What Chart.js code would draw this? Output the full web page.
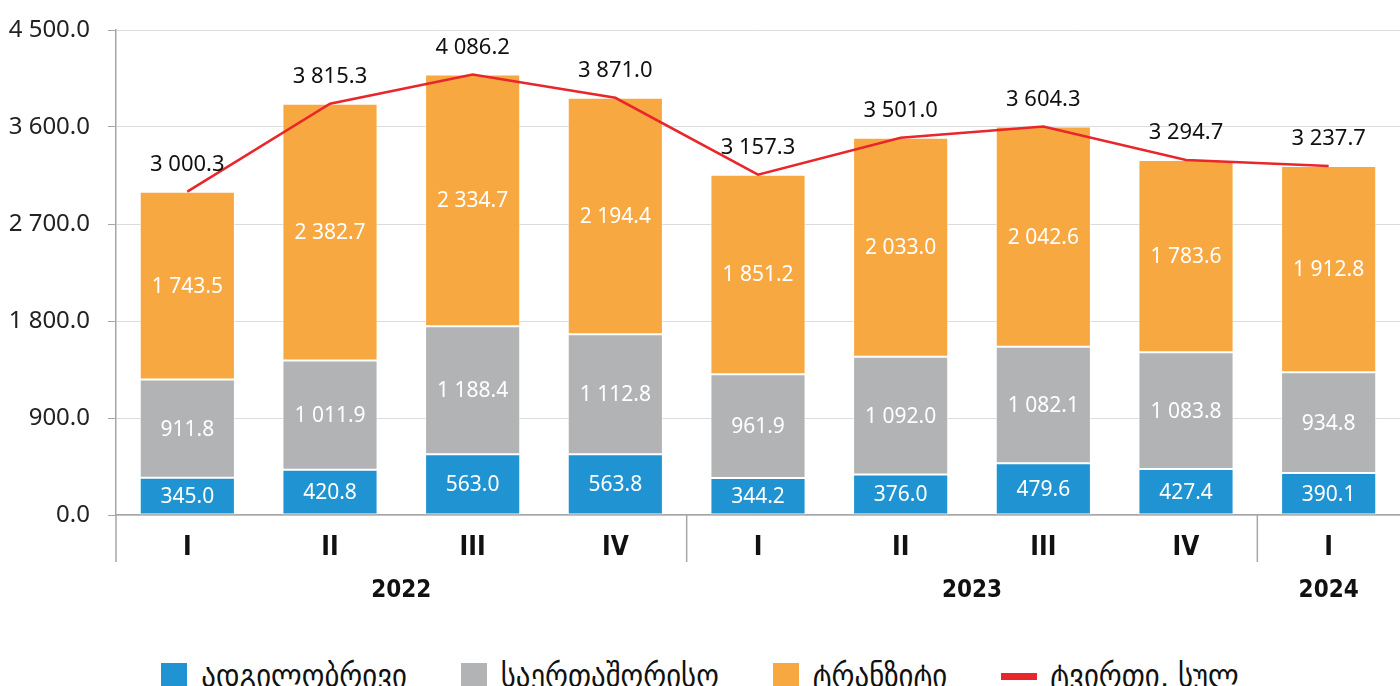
<!DOCTYPE html>
<html>
<head>
<meta charset="utf-8">
<script src="https://cdn.jsdelivr.net/npm/chart.js@4/dist/chart.umd.min.js"></script>
<style>
  html, body { margin: 0; padding: 0; background: #fff; overflow: hidden; }
  #wrap { width: 1400px; height: 620px; position: relative; }
  #legend {
    position: absolute; top: 662px; left: 0; width: 1400px;
    display: flex; justify-content: center; align-items: center;
    font-family: 'DejaVu Sans Condensed', 'DejaVu Sans', sans-serif;
    font-size: 32px; color: #111; line-height: 28px;
  }
  #legend .item { display: flex; align-items: center; margin: 0 27px; white-space: nowrap; }
  #legend .swatch { width: 26px; height: 26px; margin-right: 14px; }
  #legend .swatch.line { width: 36px; height: 7px; margin-right: 13px; }
</style>
</head>
<body>
<div id="wrap"><canvas id="cargoChart"></canvas></div>
<div id="legend"></div>
<script>
// quarters and years
const categories = ['I', 'II', 'III', 'IV', 'I', 'II', 'III', 'IV', 'I'];
const years = ['2022', '2023', '2024'];
const yearFirst = [0, 4, 8];
const yearLast = [3, 7, 8];

// series (thousand tonnes)
const local = [345.0, 420.8, 563.0, 563.8, 344.2, 376.0, 479.6, 427.4, 390.1];
const international = [911.8, 1011.9, 1188.4, 1112.8, 961.9, 1092.0, 1082.1, 1083.8, 934.8];
const transit = [1743.5, 2382.7, 2334.7, 2194.4, 1851.2, 2033.0, 2042.6, 1783.6, 1912.8];
const total = [3000.3, 3815.3, 4086.2, 3871.0, 3157.3, 3501.0, 3604.3, 3294.7, 3237.7];

const yTicks = [0, 900, 1800, 2700, 3600, 4500];
const seriesNames = ['ადგილობრივი', 'საერთაშორისო', 'ტრანზიტი', 'ტვირთი, სულ'];

const numFont = "'Noto Sans', 'Open Sans', sans-serif";
const boldFont = "'DejaVu Sans Condensed', 'Liberation Sans Narrow', sans-serif";

function fmt(v) {
    const parts = Number(v).toFixed(1).split('.');
    return parts[0].replace(/\B(?=(\d{3})+(?!\d))/g, ' ') + '.' + parts[1];
}

// value labels inside / above the bars
const valueLabels = {
    id: 'valueLabels',
    afterDatasetsDraw(chart) {
        const ctx = chart.ctx;
        ctx.save();
        ctx.textAlign = 'center';
        ctx.textBaseline = 'middle';
        [0, 1, 2].forEach(function (di) {
            const meta = chart.getDatasetMeta(di);
            const vals = chart.data.datasets[di].data;
            ctx.font = '21px ' + numFont;
            ctx.fillStyle = '#ffffff';
            meta.data.forEach(function (bar, i) {
                ctx.fillText(fmt(vals[i]), bar.x, (bar.y + bar.base) / 2 + 1);
            });
        });
        const lineMeta = chart.getDatasetMeta(3);
        ctx.font = '22px ' + numFont;
        ctx.fillStyle = '#111111';
        lineMeta.data.forEach(function (pt, i) {
            ctx.fillText(fmt(total[i]), pt.x, pt.y - 27);
        });
        ctx.restore();
    }
};

// year separators and year labels under the quarter labels
const yearAxis = {
    id: 'yearAxis',
    afterDraw(chart) {
        const ctx = chart.ctx;
        const xs = chart.scales.x;
        const area = chart.chartArea;
        ctx.save();
        ctx.strokeStyle = '#a6a6a6';
        ctx.lineWidth = 1.5;
        const seps = [area.left];
        for (let k = 1; k < yearFirst.length; k++) {
            seps.push((xs.getPixelForValue(yearFirst[k] - 1) + xs.getPixelForValue(yearFirst[k])) / 2);
        }
        seps.forEach(function (x) {
            ctx.beginPath();
            ctx.moveTo(x, area.bottom);
            ctx.lineTo(x, area.bottom + 47);
            ctx.stroke();
        });
        ctx.font = 'bold 24px ' + boldFont;
        ctx.fillStyle = '#111111';
        ctx.textAlign = 'center';
        ctx.textBaseline = 'middle';
        years.forEach(function (y, k) {
            const x = (xs.getPixelForValue(yearFirst[k]) + xs.getPixelForValue(yearLast[k])) / 2;
            ctx.fillText(y, x, area.bottom + 76);
        });
        ctx.restore();
    }
};

// html legend under the canvas
const htmlLegend = {
    id: 'htmlLegend',
    afterUpdate(chart) {
        const box = document.getElementById('legend');
        box.innerHTML = '';
        chart.data.datasets.forEach(function (ds) {
            const item = document.createElement('div');
            item.className = 'item';
            const sw = document.createElement('span');
            sw.className = ds.type === 'line' ? 'swatch line' : 'swatch';
            sw.style.background = ds.type === 'line' ? ds.borderColor : ds.backgroundColor;
            const txt = document.createElement('span');
            txt.textContent = ds.label;
            item.appendChild(sw);
            item.appendChild(txt);
            box.appendChild(item);
        });
    }
};

document.addEventListener('DOMContentLoaded', function () {
    const ctx = document.getElementById('cargoChart').getContext('2d');

    const barCommon = {
        type: 'bar',
        stack: 'cargo',
        borderColor: 'rgba(255,255,255,0.6)',
        borderWidth: 1,
        borderSkipped: false,
        categoryPercentage: 1.0,
        barPercentage: 0.667
    };

    new Chart(ctx, {
        data: {
            labels: categories,
            datasets: [
                Object.assign({ label: seriesNames[0], data: local, backgroundColor: '#2094d2' }, barCommon),
                Object.assign({ label: seriesNames[1], data: international, backgroundColor: '#b2b3b5' }, barCommon),
                Object.assign({ label: seriesNames[2], data: transit, backgroundColor: '#f8a840' }, barCommon),
                {
                    type: 'line',
                    label: seriesNames[3],
                    data: total,
                    borderColor: '#e8262b',
                    backgroundColor: '#e8262b',
                    borderWidth: 2.5,
                    pointRadius: 0,
                    fill: false,
                    tension: 0,
                    order: -1
                }
            ]
        },
        options: {
            responsive: true,
            maintainAspectRatio: false,
            animation: false,
            layout: { padding: { top: 0, right: 0, left: 0, bottom: 0 } },
            scales: {
                x: {
                    stacked: true,
                    offset: true,
                    grid: { display: false, drawTicks: false },
                    border: { display: true, color: '#a6a6a6', width: 1.5 },
                    ticks: {
                        padding: 18,
                        color: '#111111',
                        font: { family: boldFont, size: 26, weight: 'bold' }
                    },
                    afterFit: function (s) { s.height = 105; }
                },
                y: {
                    stacked: true,
                    min: 0,
                    max: 4500,
                    afterBuildTicks: function (s) { s.ticks = yTicks.map(function (v) { return { value: v }; }); },
                    grid: { color: '#dcdcdc', lineWidth: 1, tickLength: 8, tickColor: '#a6a6a6' },
                    border: { display: true, color: '#a6a6a6', width: 1.5 },
                    ticks: {
                        padding: 18,
                        color: '#222222',
                        font: { family: numFont, size: 24, lineHeight: 1 },
                        callback: function (v) { return fmt(v); }
                    },
                    afterFit: function (s) { s.width = 116; }
                }
            },
            plugins: {
                tooltip: { enabled: false },
                legend: { display: false }
            }
        },
        plugins: [valueLabels, yearAxis, htmlLegend]
    });
});
</script>
</body>
</html>
